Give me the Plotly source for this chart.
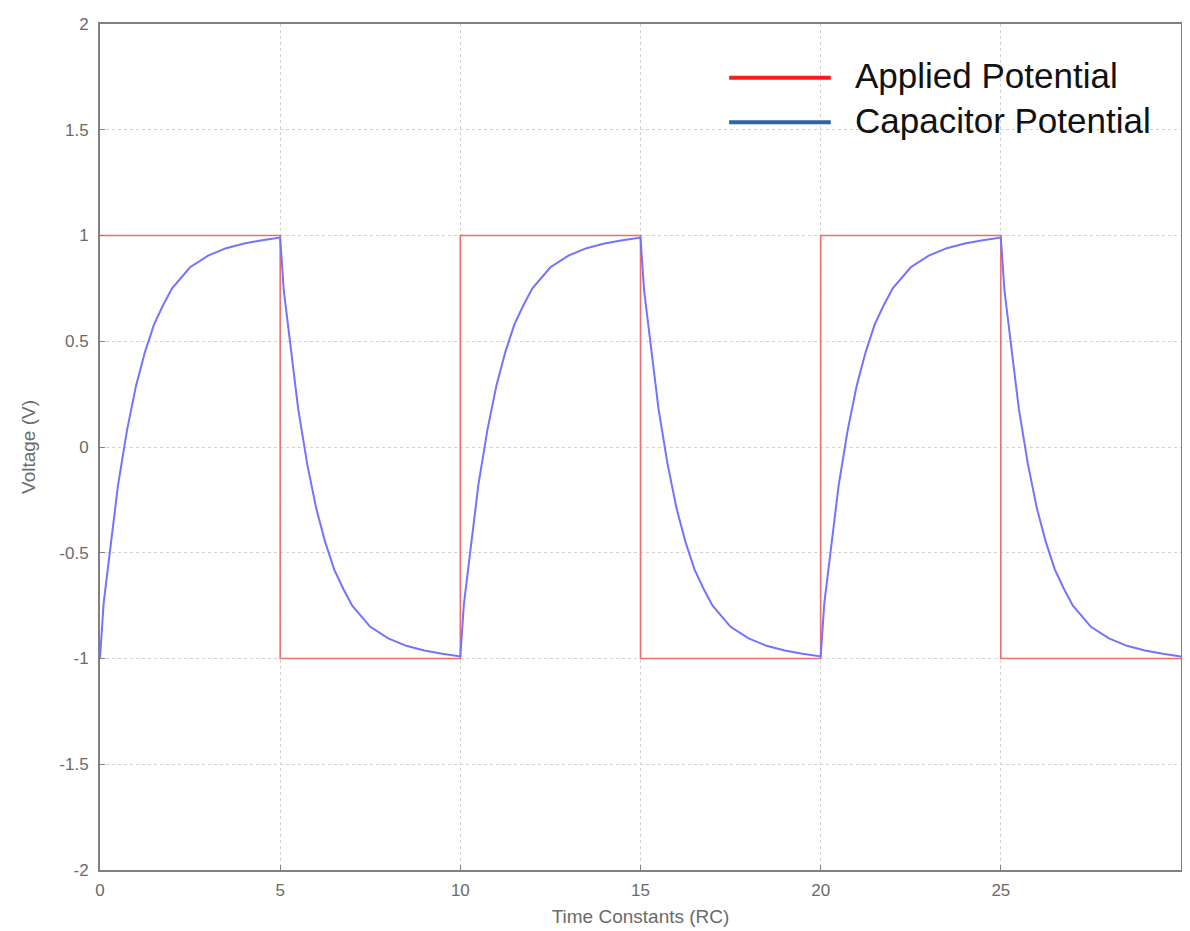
import plotly.graph_objects as go

# Applied potential (square wave)
applied_t = [0, 5, 5, 10, 10, 15, 15, 20, 20, 25, 25, 30]
applied_v = [1, 1, -1, -1, 1, 1, -1, -1, 1, 1, -1, -1]

# Capacitor potential
cap_t = [
    0, 0.1, 0.25, 0.5, 0.75, 1, 1.25, 1.5, 1.75, 2, 2.5, 3, 3.5, 4, 4.5,
    5, 5.1, 5.25, 5.5, 5.75, 6, 6.25, 6.5, 6.75, 7, 7.5, 8, 8.5, 9, 9.5,
    10, 10.1, 10.25, 10.5, 10.75, 11, 11.25, 11.5, 11.75, 12, 12.5, 13, 13.5, 14, 14.5,
    15, 15.1, 15.25, 15.5, 15.75, 16, 16.25, 16.5, 16.75, 17, 17.5, 18, 18.5, 19, 19.5,
    20, 20.1, 20.25, 20.5, 20.75, 21, 21.25, 21.5, 21.75, 22, 22.5, 23, 23.5, 24, 24.5,
    25, 25.1, 25.25, 25.5, 25.75, 26, 26.25, 26.5, 26.75, 27, 27.5, 28, 28.5, 29, 29.5,
    30,
]
cap_v = [
    -1.0, -0.74, -0.53, -0.18, 0.08, 0.29, 0.45, 0.58, 0.67, 0.75, 0.85, 0.905, 0.94, 0.962, 0.978,
    0.99, 0.74, 0.53, 0.18, -0.08, -0.29, -0.45, -0.58, -0.67, -0.75, -0.85, -0.905, -0.94, -0.962, -0.978,
    -0.99, -0.74, -0.53, -0.18, 0.08, 0.29, 0.45, 0.58, 0.67, 0.75, 0.85, 0.905, 0.94, 0.962, 0.978,
    0.99, 0.74, 0.53, 0.18, -0.08, -0.29, -0.45, -0.58, -0.67, -0.75, -0.85, -0.905, -0.94, -0.962, -0.978,
    -0.99, -0.74, -0.53, -0.18, 0.08, 0.29, 0.45, 0.58, 0.67, 0.75, 0.85, 0.905, 0.94, 0.962, 0.978,
    0.99, 0.74, 0.53, 0.18, -0.08, -0.29, -0.45, -0.58, -0.67, -0.75, -0.85, -0.905, -0.94, -0.962, -0.978,
    -0.99,
]

x_ticks = [0, 5, 10, 15, 20, 25, 30]
y_ticks = [-2, -1.5, -1, -0.5, 0, 0.5, 1, 1.5, 2]
y_tick_text = ["-2", "-1.5", "-1", "-0.5", "0", "0.5", "1", "1.5", "2"]

legend_names = ["Applied Potential", "Capacitor Potential"]
legend_colors = ["#ff1a1a", "#2f62ad"]

fig = go.Figure()
fig.add_trace(go.Scatter(x=applied_t, y=applied_v, mode="lines",
                         line=dict(color="rgba(236,95,95,0.9)", width=1.6),
                         name=legend_names[0], showlegend=False))
fig.add_trace(go.Scatter(x=cap_t, y=cap_v, mode="lines",
                         line=dict(color="#7373ff", width=2),
                         name=legend_names[1], showlegend=False))

axis_common = dict(showline=True, linecolor="#808080", linewidth=2, mirror=True,
                   ticks="inside", ticklen=5, tickcolor="#808080",
                   showgrid=True, gridcolor="#d2d2d2", griddash="dot", gridwidth=1,
                   zeroline=False,
                   tickfont=dict(family="Liberation Sans, Arial", size=17, color="#6a6a6a"))

fig.update_xaxes(range=[0, 30], tickvals=x_ticks, ticklabelstandoff=4, **axis_common,
                 title=dict(text="Time Constants (RC)", standoff=10,
                            font=dict(family="Liberation Sans, Arial", size=19, color="#6a6a6a")))
fig.update_yaxes(range=[-2, 2], tickvals=y_ticks, ticktext=y_tick_text, ticklabelstandoff=6,
                 **axis_common,
                 title=dict(text="Voltage (V)", standoff=19,
                            font=dict(family="Liberation Sans, Arial", size=19, color="#6a6a6a")))

# Manual legend
legend_rows_y = [0.9366, 0.8838]
for name, color, yy in zip(legend_names, legend_colors, legend_rows_y):
    fig.add_shape(type="line", xref="paper", yref="paper", x0=0.582, x1=0.676, y0=yy, y1=yy,
                  line=dict(color=color, width=4))
    fig.add_annotation(xref="paper", yref="paper", x=0.697, y=yy + 0.002, text=name,
                       showarrow=False, xanchor="left", yanchor="middle",
                       font=dict(family="Liberation Sans, Arial", size=35, color="#111111"))

fig.update_layout(width=1182, height=923, margin=dict(l=92, r=7, t=10, b=61),
                  plot_bgcolor="white", paper_bgcolor="white")

fig.write_html("out.html")
